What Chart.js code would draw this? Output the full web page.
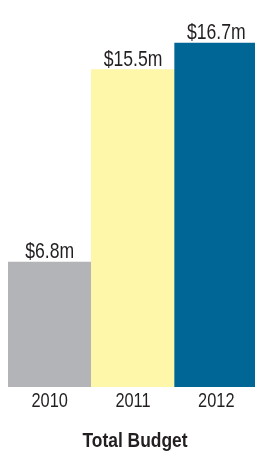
<!DOCTYPE html>
<html>
<head>
<meta charset="utf-8">
<script src="https://cdn.jsdelivr.net/npm/chart.js@4"></script>
<style>
  html, body { margin: 0; padding: 0; background: #fff; overflow: hidden; }
  #wrap { width: 258px; height: 453px; }
</style>
</head>
<body>
<div id="wrap"><canvas id="budget"></canvas></div>
<script>
const years = ['2010', '2011', '2012']
const budget = [6.8, 15.5, 16.7]
const budgetLabels = ['$6.8m', '$15.5m', '$16.7m']
const barColors = ['#b3b4b8', '#fef6a8', '#006695']
const chartTitle = 'Total Budget'

const fontFamily = "'Liberation Sans', Arial, sans-serif"
const textColor = '#231f20'

// the original uses a condensed face, so squeeze the text horizontally
function narrowText(ctx, text, x, y, squeeze) {
  ctx.save()
  ctx.translate(x, y)
  ctx.scale(squeeze, 1)
  ctx.fillText(text, 0, 0)
  ctx.restore()
}

// value labels over the bars, year ticks and title under the x axis
const budgetText = {
  id: 'budgetText',
  afterDatasetsDraw(chart) {
    const ctx = chart.ctx
    const meta = chart.getDatasetMeta(0)
    const xScale = chart.scales.x
    const bottom = chart.chartArea.bottom
    ctx.save()
    ctx.fillStyle = textColor
    ctx.textAlign = 'center'
    ctx.textBaseline = 'alphabetic'

    ctx.font = '22px ' + fontFamily
    meta.data.forEach((bar, i) => {
      narrowText(ctx, budgetLabels[i], bar.x, bar.y - 4, 0.8)
    })

    ctx.font = '21px ' + fontFamily
    years.forEach((year, i) => {
      narrowText(ctx, year, xScale.getPixelForValue(i), bottom + 20, 0.78)
    })

    ctx.font = 'bold 21px ' + fontFamily
    narrowText(ctx, chartTitle, 135, bottom + 60, 0.83)
    ctx.restore()
  }
}

new Chart(document.getElementById('budget'), {
  type: 'bar',
  data: {
    labels: years,
    datasets: [{
      label: chartTitle,
      data: budget,
      backgroundColor: barColors,
      borderWidth: 0,
      barPercentage: 1,
      categoryPercentage: 1
    }]
  },
  options: {
    responsive: true,
    maintainAspectRatio: false,
    animation: false,
    layout: { padding: { top: 10, left: 8, right: 0, bottom: 66 } },
    plugins: {
      legend: { display: false },
      tooltip: { enabled: false }
    },
    scales: {
      x: { display: false },
      y: {
        display: false,
        min: 1.15,
        max: 18.2
      }
    }
  },
  plugins: [budgetText]
})
</script>
</body>
</html>
